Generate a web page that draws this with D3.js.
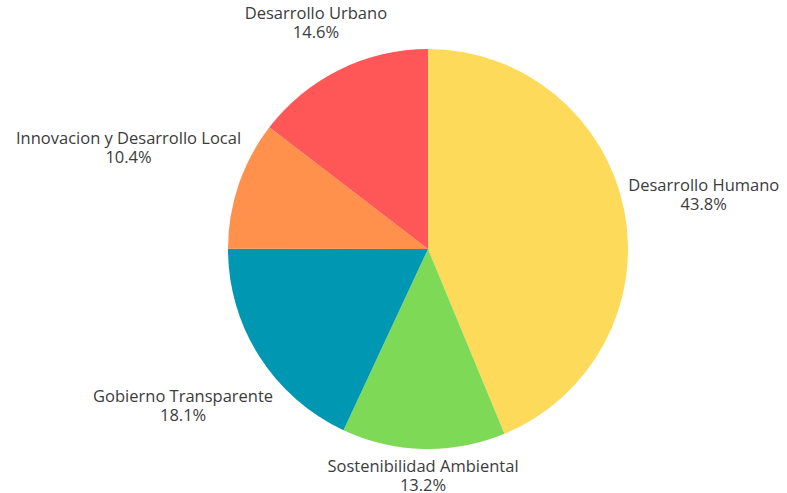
<!DOCTYPE html>
<html>
<head>
<meta charset="utf-8">
<script src="https://cdn.jsdelivr.net/npm/d3@7"></script>
<style>
    body { margin: 0; background: #fff; }
    svg text { font-family: 'Open Sans', sans-serif; }
</style>
</head>
<body>
<svg id="chart" width="787" height="493"></svg>
<script>
const categories = [
    'Desarrollo Humano',
    'Sostenibilidad Ambiental',
    'Gobierno Transparente',
    'Innovacion y Desarrollo Local',
    'Desarrollo Urbano',
];
const shares = [43.8, 13.2, 18.1, 10.4, 14.6];
const colours = ['#FEDA5A', '#7ED957', '#0097B2', '#FF914D', '#FF5757'];

const radius = 200;
const cx = 428;
const cy = 249;
const fontSize = 16.5;
const lineGap = 19;

const svg = d3.select('#chart');
const g = svg.append('g').attr('transform', `translate(${cx},${cy})`);

const slices = categories.map((name, i) => ({ name, value: shares[i], colour: colours[i] }));

const pie = d3.pie()
    .value(d => d.value)
    .sort(null);

const arc = d3.arc()
    .innerRadius(0)
    .outerRadius(radius);

const arcs = pie(slices);

g.selectAll('path')
    .data(arcs)
    .enter()
    .append('path')
    .attr('d', arc)
    .attr('fill', d => d.data.colour);

const labels = g.selectAll('g.label')
    .data(arcs)
    .enter()
    .append('g')
    .attr('class', 'label');

labels.append('text')
    .attr('text-anchor', 'middle')
    .attr('font-size', fontSize)
    .attr('fill', '#3c3c3c')
    .attr('y', 0)
    .text(d => d.data.name);

labels.append('text')
    .attr('text-anchor', 'middle')
    .attr('font-size', fontSize)
    .attr('fill', '#3c3c3c')
    .attr('y', lineGap)
    .text(d => `${d.data.value.toFixed(1)}%`);

// push each label out along the slice's mid angle until its box clears the pie
labels.each(function placeLabel(d) {
    const box = this.getBBox();
    const mid = (d.startAngle + d.endAngle) / 2;
    const dx = Math.sin(mid);
    const dy = -Math.cos(mid);
    const reach = radius + 3 + Math.abs(dx) * box.width / 2 + Math.abs(dy) * box.height / 2;
    const tx = dx * reach - (box.x + box.width / 2);
    const ty = dy * reach - (box.y + box.height / 2);
    d3.select(this).attr('transform', `translate(${tx},${ty})`);
});
</script>
</body>
</html>
